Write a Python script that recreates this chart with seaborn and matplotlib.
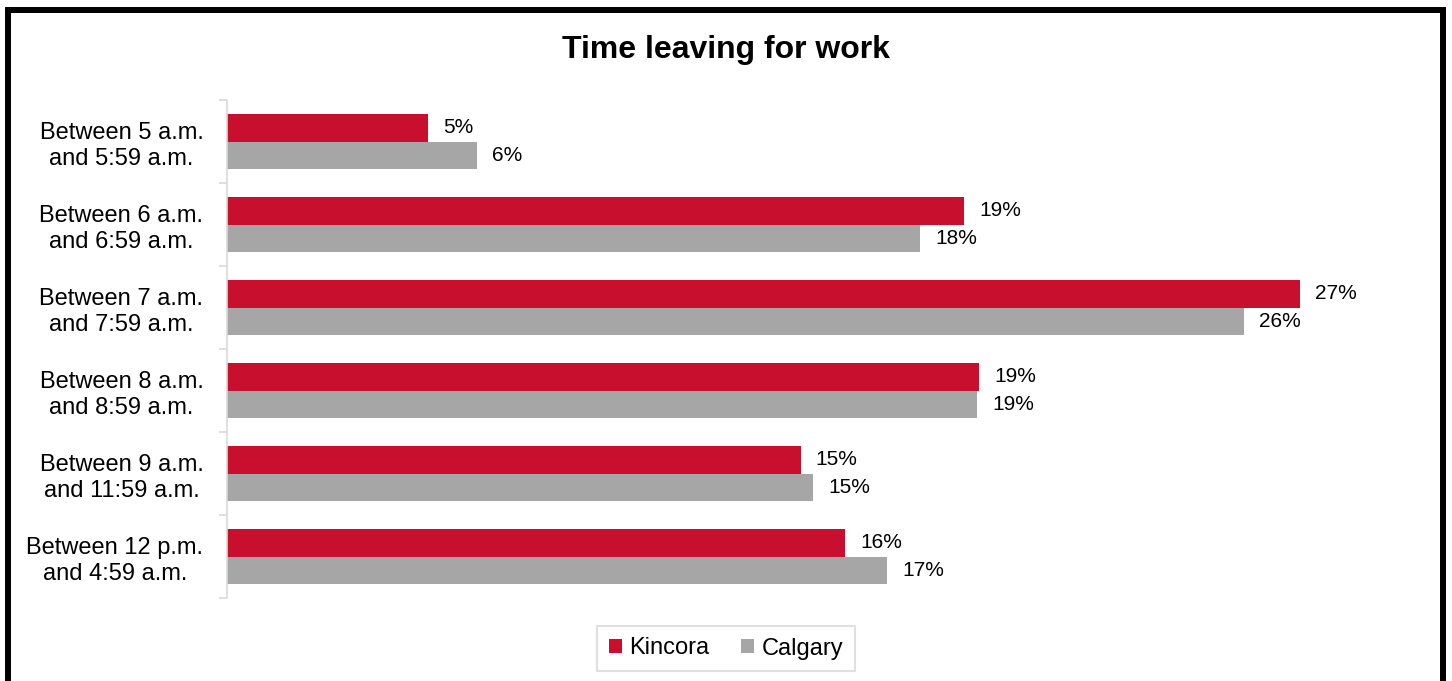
import matplotlib
matplotlib.use("Agg")
import matplotlib.pyplot as plt
import seaborn as sns
import pandas as pd
from matplotlib.patches import Rectangle

categories = [
    "Between 5 a.m.\nand 5:59 a.m.",
    "Between 6 a.m.\nand 6:59 a.m.",
    "Between 7 a.m.\nand 7:59 a.m.",
    "Between 8 a.m.\nand 8:59 a.m.",
    "Between 9 a.m.\nand 11:59 a.m.",
    "Between 12 p.m.\nand 4:59 a.m.",
]
series = ["Kincora", "Calgary"]
kincora = [5.09, 18.67, 27.16, 19.05, 14.52, 15.65]
calgary = [6.32, 17.54, 25.75, 18.98, 14.83, 16.72]
colors = {"Kincora": "#C8102E", "Calgary": "#A6A6A6"}

df = pd.DataFrame({
    "category": categories * 2,
    "series": [series[0]] * len(categories) + [series[1]] * len(categories),
    "value": kincora + calgary,
})

sns.set_style("white")
plt.rcParams["font.family"] = ["Liberation Sans", "DejaVu Sans"]
plt.rcParams["text.color"] = "black"
plt.rcParams["axes.labelcolor"] = "black"
plt.rcParams["ytick.color"] = "black"

W, H = 1452, 681
fig = plt.figure(figsize=(W / 100, H / 100), dpi=100)
ax = fig.add_axes([227 / W, 83 / H, 1185 / W, 498 / H])

sns.barplot(data=df, y="category", x="value", hue="series", order=categories,
            hue_order=series, palette=colors, orient="h", width=0.66,
            saturation=1, edgecolor="none", ax=ax)

ax.set_xlim(0, 30)
ax.set_ylim(len(categories) - 0.5, -0.5)
ax.set_xlabel("")
ax.set_ylabel("")
ax.set_xticks([])
for s in ["top", "right", "bottom"]:
    ax.spines[s].set_visible(False)
ax.spines["left"].set_color("#D9D9D9")
ax.spines["left"].set_linewidth(1.2)

# category boundary ticks
ax.set_yticks([i - 0.5 for i in range(len(categories) + 1)], minor=True)
ax.tick_params(axis="y", which="minor", length=5.8, width=1.2, color="#D9D9D9", left=True)
ax.tick_params(axis="y", which="major", length=0, pad=17, labelsize=17, labelcolor="black")
for lab in ax.get_yticklabels():
    lab.set_multialignment("center")
    lab.set_linespacing(1.25)

for cont, s in zip(ax.containers, series):
    vals = kincora if s == "Kincora" else calgary
    ax.bar_label(cont, labels=[f"{round(v)}%" for v in vals], padding=11,
                 fontsize=15, color="black")

handles, labels = ax.get_legend_handles_labels()
leg = ax.legend(handles, labels, loc="center", bbox_to_anchor=(0.5, 32.5 / H),
                bbox_transform=fig.transFigure, ncol=2, frameon=True, fancybox=False,
                edgecolor="#D9D9D9", fontsize=17, handlelength=0.55, handleheight=0.55,
                handletextpad=0.3, columnspacing=1.35, borderpad=0.5)
leg.get_frame().set_linewidth(1.5)
for t in leg.get_texts():
    t.set_color("black")

fig.text(0.5, (H - 50) / H, "Time leaving for work", ha="center", va="center",
         fontsize=23, fontweight="bold", color="black")

# outer frame
fig.patches.append(Rectangle((8 / W, -20 / H), (1443 - 8) / W, (H - 10 + 20) / H,
                             transform=fig.transFigure, fill=False,
                             edgecolor="black", linewidth=4.3, clip_on=False))

fig.savefig("out.png", dpi=100)
